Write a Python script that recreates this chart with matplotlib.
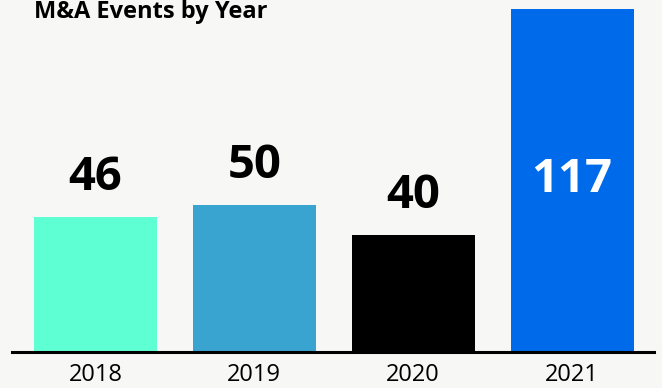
import matplotlib.pyplot as plt

years = ['2018', '2019', '2020', '2021']
events = [46, 50, 40, 117]
colors = ['#5fffd4', '#3aa4d1', '#000000', '#006bea']

plt.rcParams['font.family'] = ['Open Sans', 'DejaVu Sans']

fig = plt.figure(figsize=(6.62, 3.88), dpi=100)
fig.patch.set_facecolor('#f7f7f5')
ax = fig.add_axes([12 / 662, 36 / 388, 642 / 662, 352 / 388])
ax.set_facecolor('#f7f7f5')

x = range(len(years))
bars = ax.bar(x, events, width=0.774, color=colors)

ax.set_xlim(-0.525, 3.516)
ax.set_ylim(0, 120.1)

# value labels: above the short bars, inside the tall one
for i, v in enumerate(events):
    if v > 100:
        ax.text(i, v - 58, str(v), ha='center', va='center',
                fontsize=34, fontweight='bold', color='white')
    else:
        ax.text(i, v + 13.5, str(v), ha='center', va='center',
                fontsize=34, fontweight='bold', color='black')

ax.set_xticks(list(x))
ax.set_xticklabels(years, fontsize=17)
ax.tick_params(axis='x', length=0, pad=8)
ax.set_yticks([])
for side in ['top', 'right', 'left']:
    ax.spines[side].set_visible(False)
ax.spines['bottom'].set_linewidth(2.2)
ax.spines['bottom'].set_color('black')

fig.text(34 / 662, 1 - 12 / 388, 'M&A Events by Year', fontsize=17,
         fontweight='bold', va='center', ha='left')

fig.savefig('out.png', dpi=100, facecolor=fig.get_facecolor())
